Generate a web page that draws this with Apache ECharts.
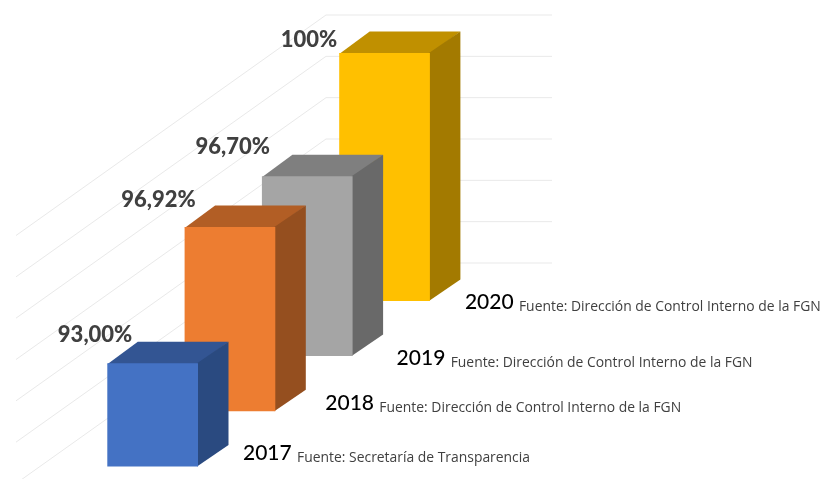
<!DOCTYPE html>
<html>
<head>
<meta charset="utf-8">
<title>Chart</title>
<script src="https://cdn.jsdelivr.net/npm/echarts@6/dist/echarts.min.js"></script>
<style>
html, body { margin: 0; padding: 0; background: #fff; }
#main { width: 821px; height: 479px; }
</style>
</head>
<body>
<div id="main"></div>
<script>
var years = ['2017', '2018', '2019', '2020'];
var values = [93, 96.92, 96.7, 100];
var valueLabels = ['93,00%', '96,92%', '96,70%', '100%'];
var sources = [
    'Fuente: Secretaría de Transparencia',
    'Fuente: Dirección de Control Interno de la FGN',
    'Fuente: Dirección de Control Interno de la FGN',
    'Fuente: Dirección de Control Interno de la FGN'
];
var gridTicks = [88, 90, 92, 94, 96, 98, 100];

var frontColors = ['#4472C4', '#ED7D31', '#A5A5A5', '#FFC000'];
var topColors = ['#335593', '#B25E25', '#7F7F7F', '#C09000'];
var sideColors = ['#2A4A80', '#954F1F', '#696969', '#A37A00'];

// paso de profundidad entre barras y tamanho del cubo
var stepY = 55.2;
var barW = 90.7;
var depthX = 30.5;
var depthY = 21.5;

// ajustes de las etiquetas respecto a la barra
var valueOffset = [[25, -28], [11, -27], [8, -29], [-2, -13]];
var yearOffset = [[45, -13], [50, -8], [44, 2], [35, 1]];

function poly(points, color, z) {
    return { type: 'polygon', shape: { points: points }, style: { fill: color }, z2: z };
}

function renderBar(params, api) {
    var i = api.value(0);
    var shift = stepY * i;
    var top = api.coord([i, api.value(1)]);
    var base = api.coord([i, 88]);
    var l = top[0] - barW / 2;
    var r = top[0] + barW / 2;
    var t = top[1] - shift;
    var b = base[1] - shift;
    var z = 10 * (4 - i);
    return {
        type: 'group',
        children: [
            // tapa y lado entran 1px bajo el frente para que no se vea la barra de atras
            poly([[l, t + 1], [l + depthX, t - depthY], [r + depthX, t - depthY], [r, t + 1]], topColors[i], z),
            poly([[r - 1, t], [r + depthX, t - depthY], [r + depthX, b - depthY], [r - 1, b]], sideColors[i], z),
            poly([[l, t], [r, t], [r, b], [l, b]], frontColors[i], z + 1),
            {
                type: 'text',
                z2: 100,
                style: {
                    x: l + valueOffset[i][0],
                    y: t + valueOffset[i][1],
                    text: valueLabels[i],
                    align: 'right',
                    verticalAlign: 'middle',
                    fill: '#404040',
                    font: '900 22px Lato'
                }
            },
            {
                type: 'text',
                z2: 100,
                style: {
                    x: r + yearOffset[i][0],
                    y: b + yearOffset[i][1],
                    text: '{y|' + years[i] + '} {f|' + sources[i] + '}',
                    align: 'left',
                    verticalAlign: 'middle',
                    rich: {
                        y: { fontSize: 21, fontFamily: 'Lato', fill: '#000', fontWeight: 500, lineHeight: 24 },
                        f: { fontSize: 13.9, fontFamily: 'Open Sans', fill: '#404040', lineHeight: 20, verticalAlign: 'bottom', padding: [0, 0, 0, 2] }
                    }
                }
            }
        ]
    };
}

function renderGrid(params, api) {
    var y = api.coord([0, api.value(0)])[1];
    return {
        type: 'polyline',
        shape: { points: [[16, y + 17], [326, y - 203.5], [552, y - 203.5]] },
        style: { fill: 'none', stroke: '#e9e9e9', lineWidth: 1 }
    };
}

var myChart = echarts.init(document.getElementById('main'));

var option = {
    backgroundColor: '#fff',
    animation: false,
    grid: { left: 114, top: 218.5, width: 309.2, height: 248 },
    xAxis: { type: 'category', data: years, show: false },
    yAxis: { type: 'value', min: 88, max: 100, interval: 2, show: false },
    series: [
        {
            type: 'custom',
            renderItem: renderGrid,
            encode: { y: 0 },
            data: gridTicks.map(function (v) { return [v]; }),
            silent: true,
            z: 1
        },
        {
            type: 'custom',
            renderItem: renderBar,
            encode: { x: 0, y: 1 },
            data: values.map(function (v, i) { return [i, v]; }),
            z: 2
        }
    ]
};

myChart.setOption(option);
</script>
</body>
</html>
